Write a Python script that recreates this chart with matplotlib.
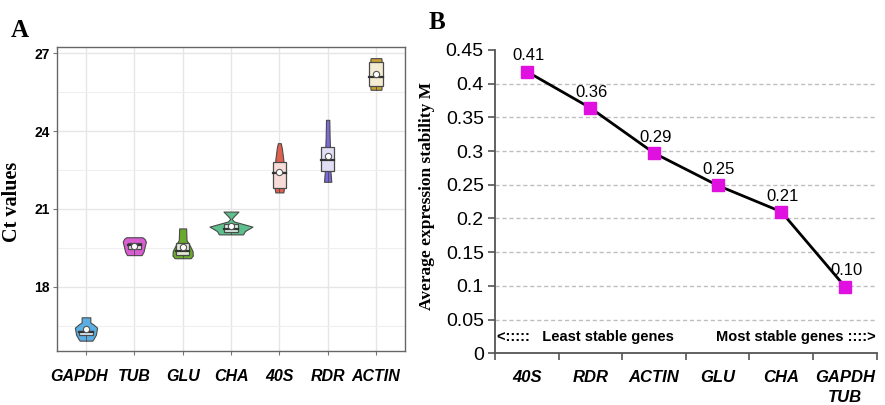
import matplotlib
matplotlib.use('Agg')
import matplotlib.pyplot as plt
import matplotlib.colors as mcolors
from matplotlib.ticker import MultipleLocator, FixedLocator, NullFormatter, FormatStrFormatter
import numpy as np

# ---------------- Panel A data (Ct values) ----------------
genes_a = ['GAPDH', 'TUB', 'GLU', 'CHA', '40S', 'RDR', 'ACTIN']
colors_a = ['#5aaee2', '#d85ed2', '#6aaa2c', '#5cbf8c', '#e0604f', '#7b6ad8', '#c9a232']
q1 = [16.12, 19.44, 19.22, 20.12, 21.80, 22.47, 25.75]
q3 = [16.28, 19.70, 19.68, 20.42, 22.83, 23.38, 26.69]
medians = [16.26, 19.62, 19.39, 20.22, 22.38, 22.89, 26.11]
means = [16.36, 19.57, 19.52, 20.34, 22.43, 23.05, 26.21]
# violin outline: Ct levels and half widths (category units), bottom to top
violin_y = [
    [15.92, 15.97, 16.15, 16.42, 16.55, 16.62, 16.82],
    [19.22, 19.35, 19.55, 19.74, 19.85, 19.91],
    [19.10, 19.20, 19.38, 19.60, 19.80, 20.25],
    [20.02, 20.15, 20.32, 20.40, 20.52, 20.62, 20.72, 20.90],
    [21.64, 21.75, 22.30, 22.90, 23.35, 23.54],
    [22.05, 22.30, 22.50, 23.30, 23.80, 24.44],
    [25.60, 25.65, 26.77, 26.82],
]
violin_w = [
    [0.130, 0.150, 0.205, 0.230, 0.150, 0.090, 0.090],
    [0.150, 0.190, 0.215, 0.240, 0.210, 0.165],
    [0.165, 0.210, 0.205, 0.145, 0.080, 0.072],
    [0.250, 0.290, 0.445, 0.290, 0.060, 0.015, 0.060, 0.155],
    [0.083, 0.093, 0.090, 0.083, 0.052, 0.030],
    [0.075, 0.065, 0.055, 0.050, 0.040, 0.034],
    [0.110, 0.115, 0.115, 0.110],
]

# ---------------- Panel B data (geNorm M) ----------------
genes_b = ['40S', 'RDR', 'ACTIN', 'GLU', 'CHA', 'GAPDH\nTUB']
m_values = [0.418, 0.364, 0.297, 0.249, 0.210, 0.099]
m_labels = ['0.41', '0.36', '0.29', '0.25', '0.21', '0.10']

sans = 'Liberation Sans'
serif = 'Liberation Serif'

fig = plt.figure(figsize=(8.85, 4.05), dpi=100)

# ================= Panel A =================
ax1 = fig.add_axes([0.0644, 0.1333, 0.3932, 0.7506])
xpos = np.arange(1, len(genes_a) + 1)
for i, x in enumerate(xpos):
    c = colors_a[i]
    vy = np.array(violin_y[i])
    vw = np.array(violin_w[i])
    ax1.fill_betweenx(vy, x - vw, x + vw, facecolor=c, edgecolor='#4a4a4a',
                      linewidth=0.8, zorder=3)
    light = tuple(0.78 + 0.22 * np.array(mcolors.to_rgb(c)))
    bw = 0.14
    ax1.plot([x, x], [vy[0], q1[i]], color='#4a4a4a', lw=0.6, zorder=3.5)
    ax1.add_patch(plt.Rectangle((x - bw, q1[i]), 2 * bw, q3[i] - q1[i],
                                facecolor=light, edgecolor='#4a4a4a', lw=0.9, zorder=4))
    ax1.plot([x - bw, x + bw], [medians[i], medians[i]], color='#333333', lw=1.6, zorder=5)
    ax1.plot(x, means[i], 'o', ms=4.5, mfc='white', mec='#555555', mew=0.8, zorder=6)

ax1.set_xlim(0.4, 7.6)
ax1.set_ylim(15.52, 27.25)
# tick marks at the genes, labels on minor positions (first one sits a bit left)
label_pos = xpos.astype(float)
label_pos[0] -= 0.15
ax1.xaxis.remove_overlapping_locs = False
ax1.xaxis.set_major_locator(FixedLocator(xpos))
ax1.xaxis.set_major_formatter(NullFormatter())
ax1.xaxis.set_minor_locator(FixedLocator(label_pos))
ax1.set_xticklabels(genes_a, minor=True, fontsize=11.5,
                    fontweight='bold', fontstyle='italic', family=sans)
ax1.yaxis.set_major_locator(MultipleLocator(3))
ax1.yaxis.set_minor_locator(MultipleLocator(1.5))
ax1.yaxis.set_minor_formatter(NullFormatter())
for lab in ax1.get_yticklabels():
    lab.set_fontweight('bold')
    lab.set_fontsize(10)
    lab.set_family(sans)
ax1.tick_params(axis='x', which='major', length=3, color='#777777')
ax1.tick_params(axis='x', which='minor', length=0, pad=13)
ax1.tick_params(axis='y', which='major', length=3, pad=2, color='#777777')
ax1.tick_params(axis='y', which='minor', length=0)
ax1.grid(True, which='major', color='#e6e6e6', lw=1.0, zorder=0)
ax1.grid(True, which='minor', axis='y', color='#efefef', lw=0.8, zorder=0)
ax1.set_axisbelow(True)
for s in ax1.spines.values():
    s.set_color('#666666')
    s.set_linewidth(1.0)
ax1.set_ylabel('Ct values', fontsize=14.5, fontweight='bold', family=serif)
ax1.yaxis.set_label_coords(-0.10, 0.49)
fig.text(0.012, 0.925, 'A', fontsize=18, fontweight='bold', family=serif, va='center')

# ================= Panel B =================
ax2 = fig.add_axes([0.5593, 0.1277, 0.4313, 0.749])
xb = np.arange(len(genes_b))
ax2.plot(xb, m_values, color='black', lw=2, zorder=3)
ax2.plot(xb, m_values, 's', color='#e010e0', ms=9, zorder=4)
for x, v, t in zip(xb, m_values, m_labels):
    ax2.text(x + 0.02, v + 0.012, t, ha='center', va='bottom', fontsize=12, family=sans)

ax2.set_xlim(-0.5, len(genes_b) - 0.5)
ax2.set_ylim(0, 0.45)
ax2.yaxis.set_major_locator(MultipleLocator(0.05))
ax2.yaxis.set_major_formatter(FormatStrFormatter('%g'))
for yv in np.arange(0.05, 0.41, 0.05):
    ax2.axhline(yv, color='#bfbfbf', lw=1, ls=(0, (3, 2)), zorder=1)
ax2.xaxis.set_major_locator(FixedLocator(np.arange(-0.5, len(genes_b), 1.0)))
ax2.xaxis.set_major_formatter(NullFormatter())
ax2.xaxis.set_minor_locator(FixedLocator(xb))
ax2.set_xticklabels(genes_b, minor=True, fontsize=12, fontweight='bold',
                    fontstyle='italic', family=sans, va='top', linespacing=1.45)
ax2.tick_params(axis='x', which='major', length=5, width=1.2, color='#555555')
ax2.tick_params(axis='x', which='minor', length=0, pad=12)
ax2.tick_params(axis='y', length=5, width=1.2, color='#555555', labelsize=14, pad=3)
for lab in ax2.get_yticklabels():
    lab.set_family(sans)
for s in ['top', 'right']:
    ax2.spines[s].set_visible(False)
for s in ['left', 'bottom']:
    ax2.spines[s].set_color('#555555')
    ax2.spines[s].set_linewidth(1.3)
ax2.text(-0.47, 0.0245, '<:::::   Least stable genes', fontsize=10.5, fontweight='bold',
         family=sans, va='center', ha='left')
ax2.text(5.49, 0.0245, 'Most stable genes ::::>', fontsize=10.5, fontweight='bold',
         family=sans, va='center', ha='right')
ax2.set_ylabel('Average expression stability M', fontsize=12.5, fontweight='bold',
               family=serif)
ax2.yaxis.set_label_coords(-0.157, 0.52)
fig.text(0.484, 0.945, 'B', fontsize=18, fontweight='bold', family=serif, va='center')

fig.savefig('out.png', dpi=100)
